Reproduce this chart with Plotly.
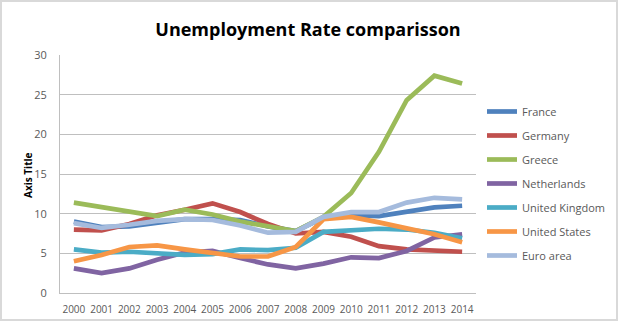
import plotly.graph_objects as go

years = [str(y) for y in range(2000, 2015)]
france = [9.0, 8.3, 8.4, 8.9, 9.3, 9.3, 9.2, 8.4, 7.8, 9.5, 9.8, 9.7, 10.3, 10.8, 11.0]
germany = [8.0, 7.9, 8.7, 9.8, 10.5, 11.3, 10.2, 8.7, 7.5, 7.7, 7.1, 5.9, 5.5, 5.3, 5.2]
greece = [11.4, 10.8, 10.3, 9.7, 10.5, 9.9, 9.0, 8.4, 7.8, 9.6, 12.6, 17.8, 24.3, 27.4, 26.4]
netherlands = [3.1, 2.5, 3.1, 4.2, 5.1, 5.3, 4.4, 3.6, 3.1, 3.7, 4.5, 4.4, 5.3, 7.0, 7.4]
uk = [5.5, 5.1, 5.2, 5.0, 4.8, 4.9, 5.5, 5.4, 5.7, 7.7, 7.9, 8.1, 8.0, 7.6, 6.9]
us = [4.0, 4.8, 5.8, 6.0, 5.5, 5.1, 4.6, 4.6, 5.8, 9.3, 9.6, 8.9, 8.1, 7.4, 6.4]
euro = [8.8, 8.2, 8.6, 9.1, 9.3, 9.2, 8.5, 7.6, 7.7, 9.6, 10.2, 10.2, 11.4, 12.0, 11.8]

series = [
    ("France", france, "#4F81BD"),
    ("Germany", germany, "#C0504D"),
    ("Greece", greece, "#9BBB59"),
    ("Netherlands", netherlands, "#8064A2"),
    ("United Kingdom", uk, "#4BACC6"),
    ("United States", us, "#F79646"),
    ("Euro area", euro, "#A5BBDD"),
]

fig = go.Figure()
for i, (name, vals, col) in enumerate(series):
    fig.add_trace(go.Scatter(x=years, y=vals, name=name, mode="lines",
                             line=dict(color=col, width=4.7),
                             legendgroup=f"g{i}"))

W, H = 619, 324
ml, mr, mt, mb = 60, 143, 55, 31
pw, ph = W - ml - mr, H - mt - mb

fig.update_layout(
    width=W, height=H,
    margin=dict(l=ml, r=mr, t=mt, b=mb, autoexpand=False),
    paper_bgcolor="white", plot_bgcolor="white",
    font=dict(family="Open Sans", size=11, color="#595959"),
    title=dict(text="<b>Unemployment Rate comparisson</b>", x=308 / W, xanchor="center",
               y=1 - 30 / H, yanchor="middle",
               font=dict(family="Open Sans", size=18, color="black")),
    showlegend=True,
    legend=dict(x=1 + (482 - (ml + pw)) / pw, xanchor="left", y=1 - (97 - mt) / ph, yanchor="top",
                font=dict(size=11, color="#595959"), tracegroupgap=5,
                itemwidth=30, bgcolor="rgba(0,0,0,0)"),
    xaxis=dict(type="category", range=[-0.5, 14.5], showgrid=False, automargin=False,
               showline=True, linecolor="#bfbfbf", linewidth=1, tickangle=0,
               ticks="", ticklabelstandoff=7, tickfont=dict(size=10, color="#595959")),
    yaxis=dict(range=[0, 30], dtick=5, showgrid=True, gridcolor="#bfbfbf", gridwidth=1,
               showline=True, linecolor="#bfbfbf", linewidth=1, zeroline=False, automargin=False,
               ticks="", ticklabelstandoff=10, tickfont=dict(size=11, color="#595959")),
)

fig.add_annotation(text="<b>Axis Title</b>", textangle=-90, showarrow=False,
                   xref="paper", yref="paper",
                   x=(28 - ml) / pw, y=(mt + ph - 175) / ph,
                   xanchor="center", yanchor="middle",
                   font=dict(family="Open Sans", size=10, color="black"))

# chart frame
fig.add_shape(type="rect", xref="paper", yref="paper",
              x0=(1 - ml) / pw, x1=(W - 2 - ml) / pw,
              y0=-(H - 4 - (mt + ph)) / ph, y1=1 + (mt - 1) / ph,
              line=dict(color="#d9d9d9", width=2), fillcolor="rgba(0,0,0,0)", layer="below")

fig.write_html("out.html")
